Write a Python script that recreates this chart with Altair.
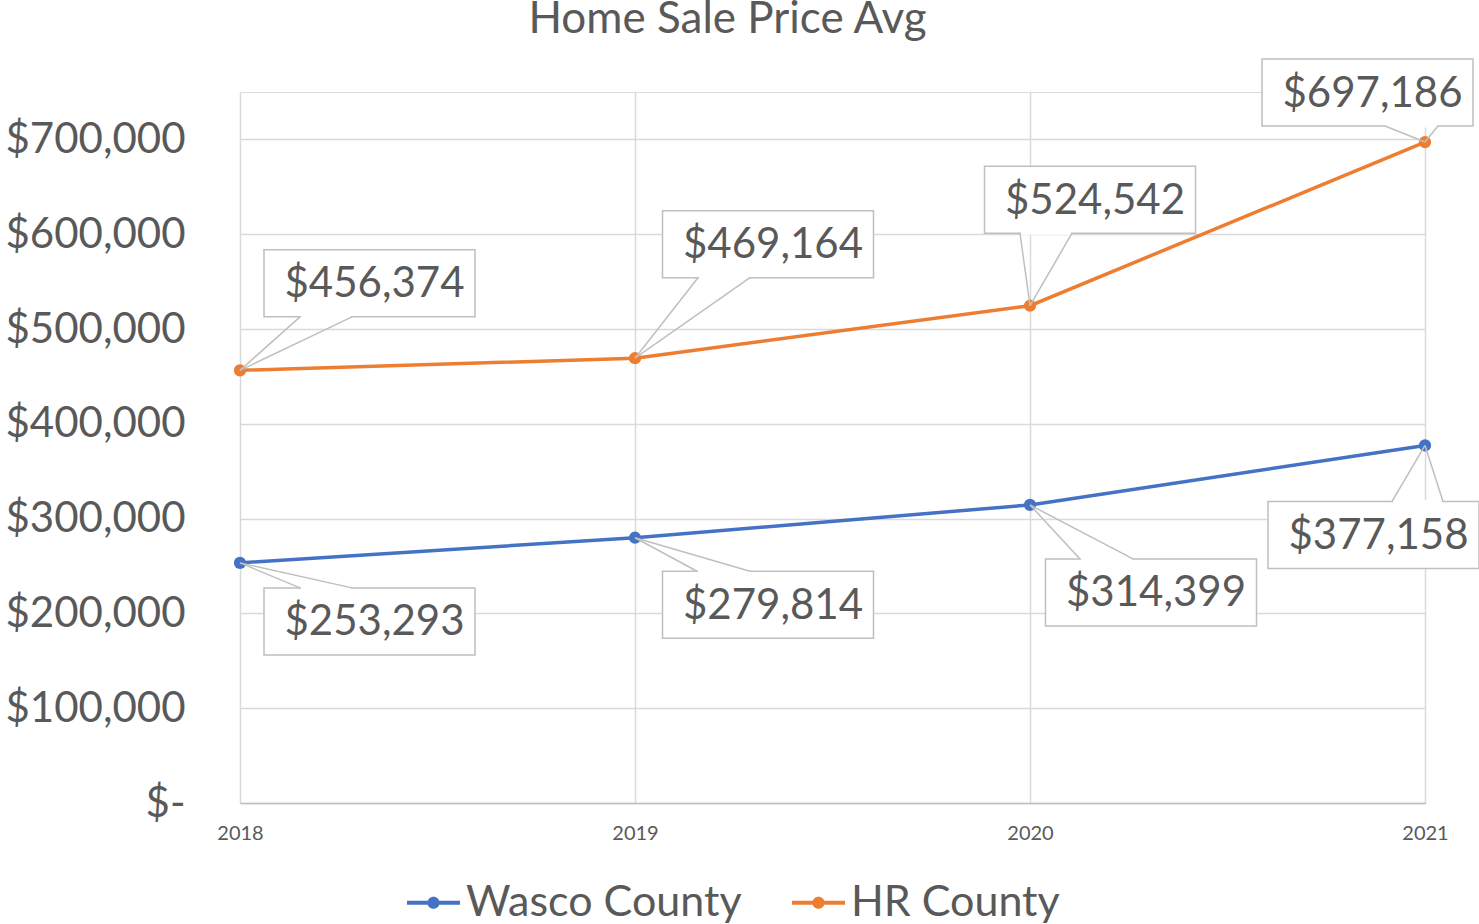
import altair as alt
import pandas as pd

# ---- data ----
title_text = "Home Sale Price Avg"
years = [2018, 2019, 2020, 2021]
wasco = [253293, 279814, 314399, 377158]
hr = [456374, 469164, 524542, 697186]
series_names = ["Wasco County", "HR County"]
y_ticks = [0, 100000, 200000, 300000, 400000, 500000, 600000, 700000]

# ---- styling ----
BLUE = "#4472C4"
ORANGE = "#ED7D31"
TXT = "#595959"
GRID = "#d9d9d9"
BOXLINE = "#bfbfbf"
FONT = "Lato"

# callout layout (pixel offsets relative to each point): box centre, leader base x's
WA_BOX = [(129.5, 58.5), (133, 67), (121, 87.5), (-51.5, 89.5)]
WA_LEAD = [(60, 112), (62, 115), (50, 103), (-33, 18)]
HR_BOX = [(129.5, -87), (133, -114), (60, -106), (-57.5, -49.5)]
HR_LEAD = [(60, 112), (63, 115), (-10, 42), (-40, 13)]
BOX_W, BOX_H = 211, 67

rows = []
for name, vals in zip(series_names, [wasco, hr]):
    for yr, v in zip(years, vals):
        rows.append({"year": yr, "value": v, "series": name})
df = pd.DataFrame(rows)

xenc = alt.X(
    "year:Q",
    scale=alt.Scale(domain=[years[0], years[-1]], nice=False, zero=False),
    axis=alt.Axis(
        values=years, format="d", title=None, labelFontSize=20, labelFont=FONT,
        labelColor=TXT, labelPadding=20, ticks=False, tickSize=0, domain=True,
        domainColor=BOXLINE, domainWidth=1.5, grid=True, gridColor=GRID,
        gridWidth=1.5, labelAngle=0, labelFlush=False,
    ),
)
yenc = alt.Y(
    "value:Q",
    scale=alt.Scale(domain=[0, 750000], nice=False),
    axis=alt.Axis(
        values=y_ticks, title=None, labelFontSize=42, labelFont=FONT,
        labelColor=TXT, labelPadding=55, ticks=False, tickSize=0, domain=False,
        grid=True, gridColor=GRID, gridWidth=1.5, labelLimit=400,
        labelExpr="datum.value == 0 ? '$-\u00a0\u00a0\u00a0' : '$' + format(datum.value, ',')",
    ),
)

legend_symbol = (
    "M-1,-0.075 H-0.22 V0.075 H-1 Z "
    "M0.22,-0.075 H1 V0.075 H0.22 Z "
    "M-0.23,0 A0.23,0.23 0 1,1 0.23,0 A0.23,0.23 0 1,1 -0.23,0 Z"
)

color = alt.Color(
    "series:N",
    scale=alt.Scale(domain=series_names, range=[BLUE, ORANGE]),
    legend=alt.Legend(
        title=None, orient="none", legendX=167, legendY=784, direction="horizontal",
        symbolType=legend_symbol, symbolSize=2809, symbolStrokeWidth=0,
        labelFontSize=43, labelFont=FONT, labelColor=TXT, labelOffset=6,
        columnPadding=50, labelLimit=600,
    ),
)

base = alt.Chart(df)
lines = base.mark_line(strokeWidth=3.5).encode(x=xenc, y=yenc, color=color)
points = base.mark_circle(size=150, opacity=1).encode(x=xenc, y=yenc, color=color)

title = alt.Chart(pd.DataFrame({"t": [title_text]})).mark_text(
    fontSize=44, font=FONT, color=TXT, align="center", baseline="alphabetic",
).encode(text="t:N", x=alt.value(487.5), y=alt.value(-59))

layers = [lines, points, title]

for name, vals, boxes, leads, below in [
    (series_names[0], wasco, WA_BOX, WA_LEAD, True),
    (series_names[1], hr, HR_BOX, HR_LEAD, False),
]:
    for i, yr in enumerate(years):
        one = df[(df.series == name) & (df.year == yr)]
        bx, by = boxes[i]
        l1, l2 = leads[i]
        ly = by - BOX_H / 2 if below else by + BOX_H / 2
        c = alt.Chart(one)
        enc = dict(x=alt.X("year:Q"), y=alt.Y("value:Q"))
        rect = c.mark_rect(
            width=BOX_W, height=BOX_H, xOffset=bx, yOffset=by,
            fill="white", stroke=BOXLINE, strokeWidth=1.5,
        ).encode(**enc)
        gap = c.mark_rule(
            color="white", strokeWidth=3, xOffset=l1 + 1, yOffset=ly,
            x2Offset=l2 - 1, y2Offset=ly,
        ).encode(x2=alt.X2("year:Q"), y2=alt.Y2("value:Q"), **enc)
        lead1 = c.mark_rule(color=BOXLINE, strokeWidth=1.5, x2Offset=l1, y2Offset=ly).encode(
            x2=alt.X2("year:Q"), y2=alt.Y2("value:Q"), **enc)
        lead2 = c.mark_rule(color=BOXLINE, strokeWidth=1.5, x2Offset=l2, y2Offset=ly).encode(
            x2=alt.X2("year:Q"), y2=alt.Y2("value:Q"), **enc)
        txt = c.mark_text(
            dx=bx + 5, dy=by + 1, fontSize=42, font=FONT, color=TXT,
            align="center", baseline="middle",
        ).encode(text=alt.Text("value:Q", format="$,"), **enc)
        layers += [rect, gap, lead1, lead2, txt]

chart = alt.layer(*layers).properties(
    width=1185,
    height=711,
    autosize=alt.AutoSizeParams(type="none"),
    padding={"left": 240, "top": 92, "right": 54, "bottom": 121},
).configure_view(stroke=None).configure(background="white")

chart.save("out.html", embed_options={"renderer": "svg", "actions": False})
